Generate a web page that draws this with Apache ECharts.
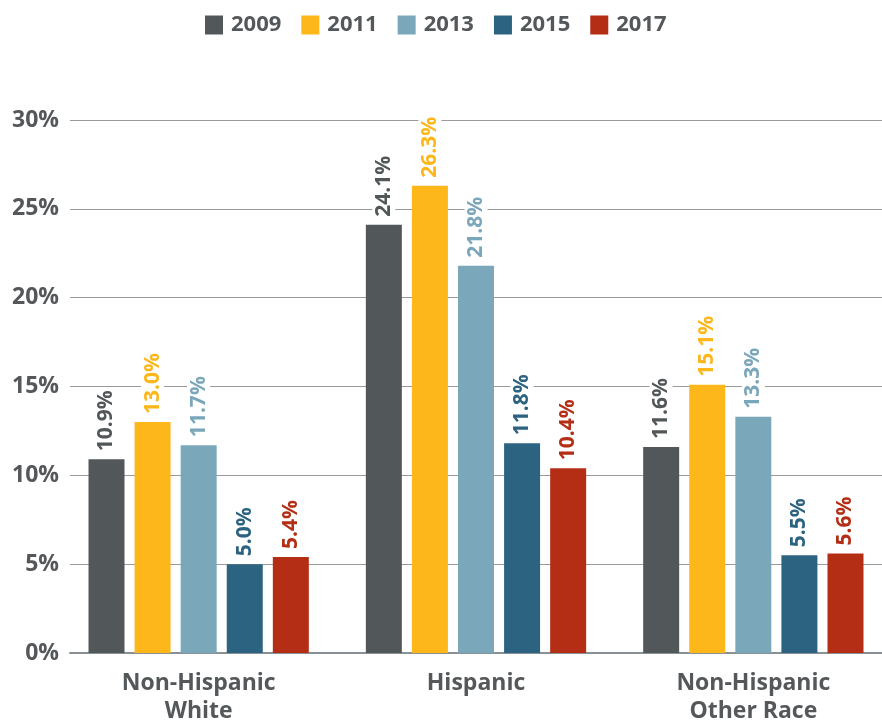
<!DOCTYPE html>
<html><head><meta charset="utf-8">
<script src="https://cdn.jsdelivr.net/npm/echarts@6/dist/echarts.min.js"></script>
<style>html,body{margin:0;padding:0;background:#fff}#c{width:882px;height:722px}</style>
</head><body><div id="c"></div>
<script>
const categories = ['Non-Hispanic\nWhite', 'Hispanic', 'Non-Hispanic\nOther Race'];
const seriesNames = ['2009', '2011', '2013', '2015', '2017'];
const v2009 = [10.9, 24.1, 11.6];
const v2011 = [13.0, 26.3, 15.1];
const v2013 = [11.7, 21.8, 13.3];
const v2015 = [5.0, 11.8, 5.5];
const v2017 = [5.4, 10.4, 5.6];
const yTicks = [0, 5, 10, 15, 20, 25, 30];

const values = [v2009, v2011, v2013, v2015, v2017];
const colors = ['#525759', '#fdb71b', '#7ba7bb', '#2c6380', '#b32e14'];
const textColor = '#54585a';
const font = 'Open Sans';

const chart = echarts.init(document.getElementById('c'));
chart.setOption({
  animation: false,
  textStyle: { fontFamily: font },
  legend: {
    top: 9, left: 200,
    itemWidth: 18, itemHeight: 19, itemGap: 20,
    icon: 'rect',
    textStyle: { color: textColor, fontSize: 22, fontWeight: 'bold', fontFamily: font, padding: [0, 0, 0, 3] },
    data: seriesNames
  },
  grid: [
    { left: 70, right: 0, top: 120, bottom: 69, outerBoundsMode: 'none' },
    { left: 60, width: 832, top: 120, bottom: 69, outerBoundsMode: 'none' }
  ],
  xAxis: [
    { gridIndex: 0, type: 'category', data: categories, axisTick: { show: false }, axisLabel: { show: false },
      axisLine: { show: true, lineStyle: { color: '#8a9196', width: 2 } } },
    { gridIndex: 1, type: 'category', data: categories, axisTick: { show: false },
      axisLine: { show: false },
      axisLabel: { color: textColor, fontSize: 23, fontWeight: 'bold', fontFamily: font, lineHeight: 28, margin: 16 } }
  ],
  yAxis: [
    { gridIndex: 0, type: 'value', min: yTicks[0], max: yTicks[yTicks.length - 1], interval: 5,
      axisLabel: { color: textColor, fontSize: 23, fontWeight: 'bold', fontFamily: font, margin: 11, formatter: v => v + '%' },
      splitLine: { lineStyle: { color: '#9a9a9a', width: 1 } },
      axisLine: { show: false }, axisTick: { show: false } },
    { gridIndex: 1, type: 'value', min: yTicks[0], max: yTicks[yTicks.length - 1], interval: 5, show: false,
      splitLine: { show: false } }
  ],
  series: seriesNames.map((name, i) => ({
    name, type: 'bar', xAxisIndex: 1, yAxisIndex: 1,
    data: values[i],
    barWidth: 36, barGap: '28%',
    itemStyle: { color: colors[i] },
    label: {
      show: true, position: 'top', rotate: 90, align: 'left', verticalAlign: 'middle', distance: 5,
      color: colors[i], fontSize: 21, fontWeight: 'bold', fontFamily: font,
      backgroundColor: '#fff', padding: [1, 3],
      formatter: p => p.value.toFixed(1) + '%'
    }
  }))
});
</script></body></html>
